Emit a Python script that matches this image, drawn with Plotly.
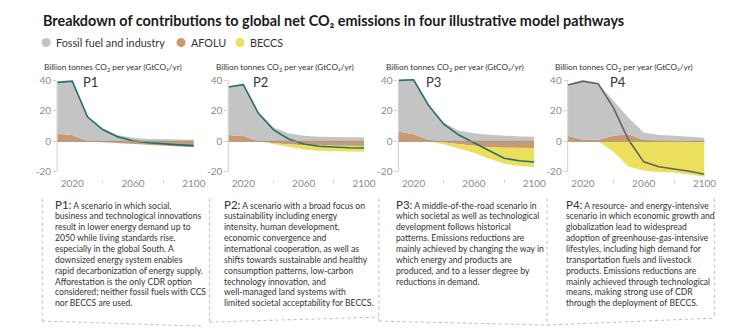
import numpy as np
import plotly.graph_objects as go

W, H = 747, 328

# ---- data (GtCO2/yr) ----
years = [2010, 2020, 2030, 2040, 2050, 2060, 2070, 2080, 2090, 2100]

p1_fossil = [33.6, 35.1, 16.2, 8.3, 4.2, 2.3, 1.5, 1.2, 1.1, 1.0]
p1_afolu = [4.9, 4.2, -0.2, -0.6, -1.2, -1.8, -2.4, -3.0, -3.4, -3.8]
p1_beccs = [0, 0, 0, 0, 0, 0, 0, 0, 0, 0]
p1_net = [38.5, 39.3, 16.0, 7.7, 2.9, 0.4, -0.9, -1.8, -2.3, -2.8]

p2_fossil = [31.3, 33.5, 18.7, 9.0, 5.2, 3.7, 3.0, 2.7, 2.6, 2.6]
p2_afolu = [4.2, 3.5, 0.1, -1.2, -2.0, -2.5, -2.8, -3.0, -3.0, -3.0]
p2_beccs = [0, 0, 0, -0.5, -1.5, -2.8, -3.3, -3.6, -3.7, -3.8]
p2_net = [35.5, 37.0, 18.3, 7.5, 1.5, -1.8, -3.2, -3.9, -4.2, -4.4]

p3_fossil = [33.3, 35.5, 22.3, 12.3, 6.9, 5.2, 4.3, 3.7, 3.2, 3.0]
p3_afolu = [6.5, 4.7, 1.1, -0.8, -1.8, -3.0, -3.8, -4.2, -4.3, -4.3]
p3_beccs = [0, 0, 0, -1.1, -3.0, -4.5, -7.5, -10.3, -11.8, -12.5]
p3_net = [39.8, 40.2, 23.4, 11.2, 4.1, -1.1, -6.0, -11.0, -12.7, -13.5]

p4_fossil = [33.1, 38.2, 36.6, 22.5, 10.7, 4.9, 3.4, 3.3, 3.0, 2.4]
p4_afolu = [3.7, 1.1, 1.1, 3.7, 4.7, 0.9, 0.7, 0.4, -0.3, -0.8]
p4_beccs = [0, 0, 0, -6.7, -16.5, -19.0, -20.0, -20.4, -21.4, -22.4]
p4_net = [36.8, 39.3, 37.7, 22.0, 1.0, -13.4, -16.6, -18.0, -19.5, -21.5]

panel_names = ["P1", "P2", "P3", "P4"]
fossil = [p1_fossil, p2_fossil, p3_fossil, p4_fossil]
afolu = [p1_afolu, p2_afolu, p3_afolu, p4_afolu]
beccs = [p1_beccs, p2_beccs, p3_beccs, p4_beccs]
net = [p1_net, p2_net, p3_net, p4_net]

legend_labels = ["Fossil fuel and industry", "AFOLU", "BECCS"]
x_ticks = [2020, 2060, 2100]
x_minor_ticks = [2040, 2080]
y_ticks = [-20, 0, 20, 40]
y_tick_text = ["-20", "0", "20", "40"]

title = "Breakdown of contributions to global net CO₂ emissions in four illustrative model pathways"
y_title = "Billion tonnes CO<sub>2</sub> per year (GtCO₂/yr)"

descriptions = [
    ["A scenario in which social,",
     "business and technological innovations",
     "result in lower energy demand up to",
     "2050 while living standards rise,",
     "especially in the global South. A",
     "downsized energy system enables",
     "rapid decarbonization of energy supply.",
     "Afforestation is the only CDR option",
     "considered; neither fossil fuels with CCS",
     "nor BECCS are used."],
    ["A scenario with a broad focus on",
     "sustainability including energy",
     "intensity, human development,",
     "economic convergence and",
     "international cooperation, as well as",
     "shifts towards sustainable and healthy",
     "consumption patterns, low-carbon",
     "technology innovation, and",
     "well-managed land systems with",
     "limited societal acceptability for BECCS."],
    ["A middle-of-the-road scenario in",
     "which societal as well as technological",
     "development follows historical",
     "patterns. Emissions reductions are",
     "mainly achieved by changing the way in",
     "which energy and products are",
     "produced, and to a lesser degree by",
     "reductions in demand."],
    ["A resource- and energy-intensive",
     "scenario in which economic growth and",
     "globalization lead to widespread",
     "adoption of greenhouse-gas-intensive",
     "lifestyles, including high demand for",
     "transportation fuels and livestock",
     "products. Emissions reductions are",
     "mainly achieved through technological",
     "means, making strong use of CDR",
     "through the deployment of BECCS."],
]

# ---- styling ----
FONT = "Lato"
C_FOSSIL = "#c4c4c4"
C_AFOLU = "#c99a72"
C_BECCS = "#ebdf5c"
C_NET = ["#21706f", "#21706f", "#21706f", "#5c6268"]
C_TEXT = "#333333"
C_TICK = "#8c8c8c"
C_AXIS = "#cfcfcf"

panel_px = [(58, 197), (232, 370), (405, 543), (577, 716)]
plot_top_px, plot_bot_px = 74.7, 177.0
y_range = [-24.5, 41.5]
label_x_year = [2025.5, 2025.0, 2027.0, 2036.5]
text_left_px = [54, 226, 400, 573]


def px_x(px):
    return px / W


def px_y(py):
    return 1 - py / H


fig = go.Figure()
layout = dict(
    width=W, height=H,
    margin=dict(l=0, r=0, t=0, b=0),
    paper_bgcolor="white", plot_bgcolor="white",
    showlegend=False,
    font=dict(family=FONT, color=C_TEXT),
)
annotations = []
shapes = []

for i in range(4):
    n = "" if i == 0 else str(i + 1)
    xa, ya = "x" + n, "y" + n
    f = np.array(fossil[i], dtype=float)
    a = np.array(afolu[i], dtype=float)
    b = np.array(beccs[i], dtype=float)
    a_pos = np.clip(a, 0, None)
    a_neg = np.clip(a, None, 0)

    common = dict(x=years, xaxis=xa, yaxis=ya, mode="lines",
                  line=dict(width=0), hoverinfo="skip")
    fig.add_trace(go.Scatter(y=a_pos, stackgroup=f"pos{i}", fillcolor=C_AFOLU, **common))
    fig.add_trace(go.Scatter(y=f, stackgroup=f"pos{i}", fillcolor=C_FOSSIL, **common))
    fig.add_trace(go.Scatter(y=a_neg, stackgroup=f"neg{i}", fillcolor=C_AFOLU, **common))
    fig.add_trace(go.Scatter(y=b, stackgroup=f"neg{i}", fillcolor=C_BECCS, **common))
    fig.add_trace(go.Scatter(x=years, y=net[i], xaxis=xa, yaxis=ya, mode="lines",
                             line=dict(color=C_NET[i], width=1.6)))

    x0, x1 = panel_px[i]
    layout["xaxis" + n] = dict(
        domain=[px_x(x0), px_x(x1)], range=[2010, 2100], anchor=ya,
        showgrid=False, zeroline=False, showline=False,
        tickmode="array", tickvals=x_ticks, ticks="",
        ticklabelstandoff=-3,
        tickfont=dict(size=10, color=C_TICK, family=FONT),
        minor=dict(tickmode="array", tickvals=x_minor_ticks, ticks="outside",
                   ticklen=3, tickcolor=C_AXIS),
        fixedrange=True,
    )
    layout["yaxis" + n] = dict(
        domain=[px_y(plot_bot_px), px_y(plot_top_px)], range=y_range, anchor=xa,
        showgrid=False, zeroline=False, showline=False,
        tickmode="array", tickvals=y_ticks, ticktext=y_tick_text,
        ticks="outside", ticklen=3,
        tickcolor=C_AXIS, tickfont=dict(size=10, color=C_TICK, family=FONT),
        fixedrange=True,
    )
    # vertical axis line spanning the labelled range
    shapes.append(dict(type="line", xref=xa + " domain", x0=0, x1=0,
                       yref=ya, y0=-20, y1=40, line=dict(color=C_AXIS, width=1)))
    # zero line
    shapes.append(dict(type="line", xref=xa + " domain", x0=0, x1=1,
                       yref=ya, y0=0, y1=0, line=dict(color="#a59482", width=1),
                       layer="above"))
    # axis title
    annotations.append(dict(text=y_title, xref="paper", yref="paper",
                            x=px_x(x0 - 15), y=px_y(64), xanchor="left", yanchor="middle",
                            showarrow=False, font=dict(size=8.2, color=C_TEXT)))
    # panel label
    annotations.append(dict(text=panel_names[i], xref=xa, yref=ya,
                            x=label_x_year[i], y=38.5, xanchor="left", yanchor="middle",
                            showarrow=False, font=dict(size=13, color=C_TEXT)))
    # description text
    for j, line in enumerate(descriptions[i]):
        txt = line
        ypos = 215 + 11 * (j - 1)
        if j == 0:
            txt = f"<span style='font-size:11.5px'>{panel_names[i]}:</span> " + line
            ypos = 203
        annotations.append(dict(text=txt, xref="paper", yref="paper",
                                x=px_x(text_left_px[i]), y=px_y(ypos),
                                xanchor="left", yanchor="middle", showarrow=False,
                                font=dict(size=8.6, color=C_TEXT)))

# dotted frames around the descriptions
for xv, ybot in [(43, 321), (213, 322), (385, 321), (556, 325), (726, 318)]:
    shapes.append(dict(type="line", xref="paper", yref="paper",
                       x0=px_x(xv), x1=px_x(xv), y0=px_y(197), y1=px_y(ybot),
                       line=dict(color="#bdbdbd", width=1, dash="dot")))
for (xa_, ya_), (xb_, yb_) in [((43, 321), (205, 326)), ((213, 322), (385, 317)),
                               ((385, 321), (556, 325)), ((556, 325), (726, 318))]:
    shapes.append(dict(type="line", xref="paper", yref="paper",
                       x0=px_x(xa_), x1=px_x(xb_), y0=px_y(ya_), y1=px_y(yb_),
                       line=dict(color="#bdbdbd", width=1, dash="dot")))

# title
annotations.append(dict(text=f"<b>{title}</b>", xref="paper", yref="paper",
                        x=px_x(42), y=px_y(17), xanchor="left", yanchor="middle",
                        showarrow=False, font=dict(size=14.4, color="#1a1a1a")))

# legend
legend_colors = [C_FOSSIL, C_AFOLU, C_BECCS]
legend_dot_px = [47, 184, 244]
legend_text_px = [55, 192, 252]
for lab, col, dx, tx in zip(legend_labels, legend_colors, legend_dot_px, legend_text_px):
    shapes.append(dict(type="circle", xref="paper", yref="paper",
                       xsizemode="pixel", ysizemode="pixel",
                       xanchor=px_x(dx), yanchor=px_y(39),
                       x0=-4.5, x1=4.5, y0=-4.5, y1=4.5,
                       fillcolor=col, line=dict(width=0)))
    annotations.append(dict(text=lab, xref="paper", yref="paper",
                            x=px_x(tx), y=px_y(39), xanchor="left", yanchor="middle",
                            showarrow=False, font=dict(size=10.8, color=C_TEXT)))

layout["annotations"] = annotations
layout["shapes"] = shapes
fig.update_layout(**layout)
fig.write_html("out.html")
